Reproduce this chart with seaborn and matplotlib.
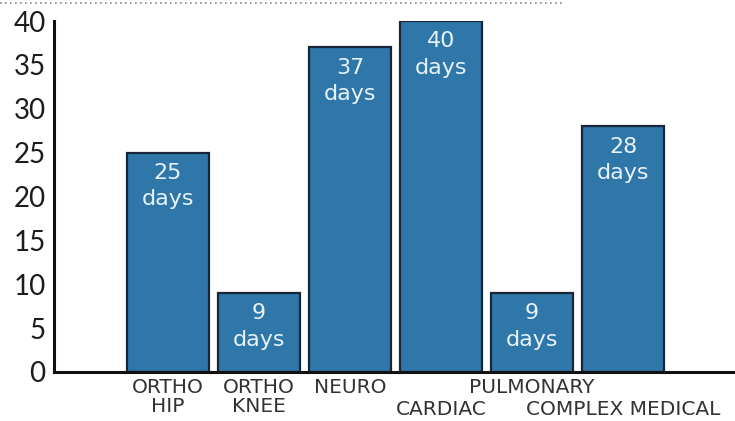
import matplotlib
matplotlib.use("Agg")
import matplotlib.pyplot as plt
from matplotlib.lines import Line2D
import seaborn as sns
import pandas as pd

categories = ["ORTHO HIP", "ORTHO KNEE", "NEURO", "CARDIAC", "PULMONARY", "COMPLEX MEDICAL"]
upper_labels = ["ORTHO\nHIP", "ORTHO\nKNEE", "NEURO", "", "PULMONARY", ""]
lower_labels = ["", "", "", "CARDIAC", "", "COMPLEX MEDICAL"]
days = [25, 9, 37, 40, 9, 28]

sns.set_theme(style="white")
plt.rcParams["font.family"] = ["DejaVu Sans"]

df = pd.DataFrame({"category": categories, "days": days})

fig = plt.figure(figsize=(7.35, 4.21), dpi=100)
ax = fig.add_axes([54 / 735, 1 - 372 / 421, 1 - 54 / 735, (372 - 21) / 421])

sns.barplot(data=df, x="category", y="days", order=categories, color="#2f76a9",
            saturation=1, edgecolor="#18263a", linewidth=1.6, width=0.9, ax=ax)

for patch, d in zip(ax.patches, days):
    ax.annotate(f"{d}\ndays", (patch.get_x() + patch.get_width() / 2, patch.get_height()),
                xytext=(0, -7.5), textcoords="offset points", ha="center", va="top",
                fontsize=16, color="#e6f3fb", linespacing=1.4)

ax.set_xlim(-1.25, 6.23)
ax.set_ylim(0, 40)
ax.set_yticks(range(0, 41, 5))
ax.set_yticklabels([str(v) for v in range(0, 41, 5)], family=["Lato", "DejaVu Sans"])
ax.set_xticks(range(len(categories)))
ax.set_xticklabels(upper_labels, fontsize=14.5, color="#333333", linespacing=1.0)
ax.set_xlabel("")
ax.set_ylabel("")

# second row of staggered category names
for i, lab in enumerate(lower_labels):
    if lab:
        ax.annotate(lab, (i, 0), xycoords=("data", "axes fraction"), xytext=(0, -20.5),
                    textcoords="offset points", ha="center", va="top",
                    fontsize=14.5, color="#333333")

ax.tick_params(axis="y", direction="in", length=13, width=2.2, labelsize=20,
               labelcolor="#1c1c1c", pad=6, color="#111111")
ax.tick_params(axis="x", length=0, pad=4)

sns.despine(ax=ax)
for side in ["left", "bottom"]:
    ax.spines[side].set_linewidth(2.2)
    ax.spines[side].set_color("#111111")

# dotted rule across the top of the page
fig.add_artist(Line2D([0, 565 / 735], [1 - 3 / 421, 1 - 3 / 421], transform=fig.transFigure,
                      color="#888888", linestyle=(0, (1, 2)), linewidth=1.2))

fig.savefig("out.png", dpi=100)
